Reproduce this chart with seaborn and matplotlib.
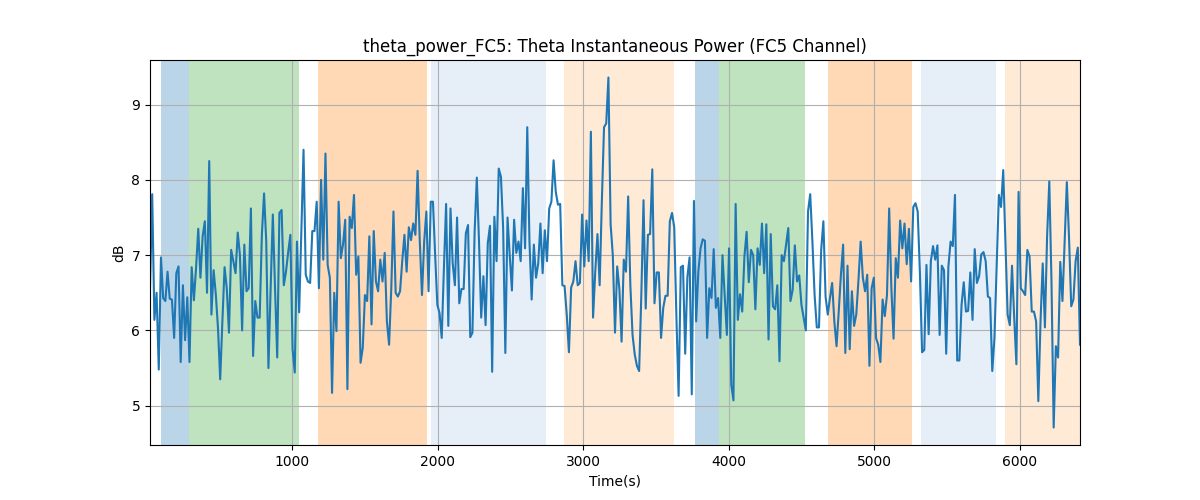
import numpy as np
import pandas as pd
import matplotlib
matplotlib.use("Agg")
import matplotlib.pyplot as plt
import seaborn as sns

# ---- data ----
t_start = 25.0
t_end = 6412.0

power_db = [
    # segment 1
    6.56, 7.81, 6.14, 6.5, 5.48, 6.97, 6.43, 6.39, 6.78, 6.42, 6.41, 5.9, 6.76, 6.85, 5.58, 6.6,
    5.87, 6.44, 5.58, 6.84, 6.4, 6.83, 7.35, 6.7, 7.25, 7.45, 6.5, 8.25, 6.21, 6.8, 6.48, 6.03,
    5.35, 6.12, 6.84, 6.56, 5.97, 7.07, 6.92, 6.76, 7.3, 7.0,
    # segment 2
    6.0, 7.14, 6.52, 6.56, 7.62, 5.66, 6.39, 6.17, 6.17, 7.27, 7.82, 7.18, 5.5, 6.56, 7.54, 6.56,
    5.64, 7.56, 7.6, 6.6, 6.78, 7.04, 7.27, 5.75, 5.44, 7.18, 6.24, 7.31, 8.4, 6.74, 6.65, 6.63,
    7.32, 7.32, 7.71, 6.56, 8.0, 6.94, 8.35, 6.87, 6.7, 5.17,
    # segment 3
    6.5, 5.99, 7.71, 6.96, 7.14, 7.47, 5.22, 7.51, 7.36, 7.8, 6.74, 6.98, 5.57, 5.77, 6.47, 6.39,
    7.25, 6.08, 7.32, 6.65, 6.52, 6.94, 6.65, 7.03, 6.12, 5.81, 6.56, 7.58, 6.5, 6.45, 6.52, 6.92,
    7.27, 6.78, 7.37, 7.2, 7.42, 7.27, 8.12, 7.18, 6.47, 7.18, 7.58, 6.52, 7.71,
    # segment 4
    7.71, 7.0, 6.34, 6.23, 5.9, 6.83, 7.68, 6.06, 7.62, 6.89, 6.6, 7.5, 6.36, 6.55, 6.55, 7.29,
    7.4, 5.91, 5.97, 7.31, 8.03, 7.18, 6.17, 6.72, 6.07, 7.16, 7.39, 5.45, 7.51, 6.92, 8.15, 8.04,
    7.36, 5.7, 7.5, 7.0, 6.53, 7.47, 7.03, 7.18, 6.92, 7.89, 7.09, 8.7,
    # segment 5
    7.18, 6.41, 7.14, 6.7, 6.89, 7.42, 6.76, 7.33, 6.92, 7.62, 7.71, 8.26, 7.84, 7.67, 7.68, 6.6,
    6.59, 6.21, 5.71, 6.57, 6.65, 6.92, 6.6, 6.63, 7.54, 6.85, 7.46, 6.92, 8.64, 6.17, 6.78, 7.28,
    6.6, 7.71, 8.7, 8.75, 9.36, 7.41, 7.0, 5.97, 6.85, 6.55, 5.85,
    # segment 6
    6.94, 6.78, 7.78, 6.6, 5.94, 5.68, 5.53, 5.46, 6.47, 7.73, 6.29, 7.27, 7.28, 8.14, 6.36, 6.77,
    6.77, 5.9, 6.3, 6.46, 6.46, 7.45, 7.56, 7.37, 6.17, 5.13, 6.84, 6.86, 5.69, 6.71, 6.97, 5.15,
    7.72, 6.12, 6.78, 7.09, 7.21, 7.19, 5.9, 6.56, 6.43, 7.08, 6.3,
    # segment 7
    6.43, 5.9, 7.0, 6.47, 5.94, 7.09, 5.28, 5.07, 7.68, 6.14, 6.48, 6.25, 6.98, 7.31, 6.64, 7.07,
    7.0, 6.28, 7.09, 6.87, 7.42, 6.76, 7.41, 5.88, 7.28, 6.32, 6.28, 6.6, 5.59, 7.0, 6.92, 7.14,
    7.36, 6.39, 6.54, 7.13, 6.65, 6.73, 6.34, 6.17, 6.0, 7.58, 7.81, 7.18,
    # segment 8
    6.47, 6.04, 6.04, 7.07, 7.45, 6.45, 6.21, 6.43, 6.63, 6.12, 5.79, 6.25, 6.74, 7.14, 5.7, 6.86,
    5.75, 6.52, 6.06, 6.21, 6.67, 7.18, 6.7, 6.52, 6.74, 5.53, 6.56, 6.7, 5.9, 5.81, 5.58, 6.41,
    6.19, 6.47, 7.62, 6.56, 5.89, 6.96, 6.7, 7.46, 7.09, 7.42, 6.88, 7.35,
    # segment 9
    6.65, 7.64, 7.69, 7.58, 6.78, 5.71, 5.74, 6.87, 5.95, 6.92, 7.12, 6.94, 7.13, 5.94, 6.86, 6.8,
    5.69, 6.85, 7.18, 7.12, 7.8, 5.6, 5.6, 6.34, 6.64, 6.25, 6.26, 6.77, 6.14, 7.08, 6.63, 6.72,
    7.01, 7.04, 6.92, 6.45, 6.43, 5.46, 5.9, 6.83, 7.8, 7.64, 8.13,
    # segment 10
    7.18, 6.21, 6.07, 6.86, 6.17, 5.55, 7.84, 6.56, 6.52, 6.47, 7.07, 6.98, 6.25, 6.25, 6.12, 5.06,
    6.12, 6.89, 6.04, 7.25, 7.98, 6.65, 4.71, 5.79, 5.64, 6.91, 6.39, 7.18, 7.97, 7.23, 6.32, 6.41,
    6.92, 7.1, 5.81,
]

span_starts = [100, 293, 1178, 1955, 2868, 3770, 3935, 4681, 5320, 5897]
span_ends = [293, 1050, 1925, 2742, 3624, 3935, 4521, 5256, 5835, 6412]
span_colors = ["#1f77b4", "#2ca02c", "#ff7f0e", "#aec7e8", "#ffbb78",
               "#1f77b4", "#2ca02c", "#ff7f0e", "#aec7e8", "#ffbb78"]

title = "theta_power_FC5: Theta Instantaneous Power (FC5 Channel)"
x_label = "Time(s)"
y_label = "dB"

# ---- plot ----
times = np.linspace(t_start, t_end, len(power_db))
df = pd.DataFrame({"time": times, "power": power_db})

fig, ax = plt.subplots(figsize=(12, 5), dpi=100)

for s, e, c in zip(span_starts, span_ends, span_colors):
    ax.axvspan(s, e, color=c, alpha=0.3, linewidth=0)

sns.lineplot(data=df, x="time", y="power", ax=ax, color="#1f77b4", linewidth=1.5)

ax.set_xlim(t_start, t_end)
ax.set_title(title)
ax.set_xlabel(x_label)
ax.set_ylabel(y_label)
ax.grid(True)

fig.savefig("out.png", dpi=100)
